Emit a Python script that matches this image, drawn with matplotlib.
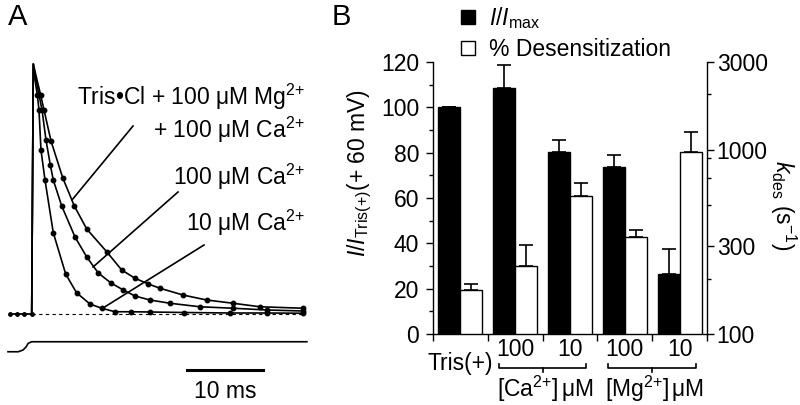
import numpy as np
import matplotlib
matplotlib.use("Agg")
import matplotlib.pyplot as plt
from matplotlib.ticker import FixedLocator, NullFormatter

plt.rcParams['font.family'] = ['Liberation Sans', 'DejaVu Sans']
plt.rcParams['mathtext.fontset'] = 'custom'
plt.rcParams['mathtext.rm'] = 'Liberation Sans'
plt.rcParams['mathtext.it'] = 'Liberation Sans:italic'
plt.rcParams['mathtext.bf'] = 'Liberation Sans:bold'
plt.rcParams['font.size'] = 16.5

# --- panel A: normalised currents, time in ms from solution exchange ---
t_base = [-2.85, -1.9, -0.95, 0.0]
i_base = [0, 0, 0, 0]

t_fast = [0.21, 0.43, 0.74, 0.96, 1.22, 1.75, 2.84, 4.47, 5.9, 7.67, 9.21,
          10.96, 13.0, 15.6, 20.0, 26.1, 31.0, 35.7]
i_fast = [1.0, 0.936, 0.876, 0.816, 0.656, 0.536, 0.325, 0.16, 0.085, 0.04,
          0.023, 0.009, 0.009, 0.008, 0.006, 0.004, 0.004, 0.003]

t_mid = [0.21, 0.57, 0.96, 1.36, 1.88, 2.45, 2.84, 3.95, 5.70, 7.24, 8.76,
         10.43, 12.05, 13.59, 15.55, 18.2, 22.1, 26.5, 31.0, 35.7]
i_mid = [1.0, 0.936, 0.876, 0.816, 0.696, 0.596, 0.536, 0.432, 0.308, 0.228,
         0.164, 0.124, 0.096, 0.072, 0.056, 0.043, 0.029, 0.023, 0.016, 0.012]

t_slow = [0.21, 0.70, 1.18, 1.62, 2.54, 4.08, 5.61, 7.24, 9.87, 11.84, 13.59,
          15.34, 16.88, 19.9, 23.0, 26.5, 30.0, 35.7]
i_slow = [1.0, 0.936, 0.876, 0.816, 0.692, 0.545, 0.432, 0.34, 0.249, 0.176,
          0.143, 0.12, 0.103, 0.076, 0.056, 0.043, 0.029, 0.023]

# open-tip junction potential (solution exchange)
t_step = [-3.12, -1.76, -1.14, -0.75, -0.45, 0.0, 36.2]
i_step = [-0.151, -0.151, -0.144, -0.132, -0.117, -0.111, -0.111]

# --- panel B ---
groups = ['Tris(+)', '100', '10', '100', '10']
i_rel = [100, 108.7, 80.5, 73.5, 26.5]
i_rel_err = [0, 9.8, 5.1, 5.3, 10.8]
k_des = [173, 235, 563, 336, 977]
k_des_err = [14, 69, 100, 31, 277]

SUP = '$^{\\mathrm{2{+}}}$'

fig = plt.figure(figsize=(8, 4.05), dpi=100)

# ---------------- A ----------------
axa = fig.add_axes([0, 0, 320 / 800, 1])
axa.set_xlim(-4.17, 37.93)
axa.set_ylim(-0.364, 1.256)
axa.axis('off')

axa.plot([0, 36], [0, 0], ls=(0, (3, 3)), color='black', lw=0.8)
axa.plot(t_base, i_base, color='black', lw=1.3, marker='o', ms=2.5)
for t, i in [(t_fast, i_fast), (t_mid, i_mid), (t_slow, i_slow)]:
    axa.plot([0.0] + t, [0.0] + i, color='black', lw=1.2)
    axa.plot(t[2:], i[2:], 'o', color='black', ms=3.2)
axa.plot(t_step, i_step, color='black', lw=1.2)

# scale bar
axa.plot([20.46, 30.46], [-0.224, -0.224], color='black', lw=2.2)
axa.text(25.46, -0.335, '10 ms', ha='center', va='baseline')

axa.text(35.96, 0.836, 'Tris•Cl + 100 μM Mg' + SUP, ha='right', va='baseline')
axa.text(35.96, 0.704, '+ 100 μM Ca' + SUP, ha='right', va='baseline')
axa.text(35.96, 0.516, '100 μM Ca' + SUP, ha='right', va='baseline')
axa.text(35.96, 0.332, '10 μM Ca' + SUP, ha='right', va='baseline')
axa.plot([13.33, 5.30], [0.752, 0.456], color='black', lw=1.2)
axa.plot([19.25, 8.07], [0.488, 0.188], color='black', lw=1.2)
axa.plot([22.67, 9.38], [0.276, 0.024], color='black', lw=1.2)

fig.text(8 / 800, 1 - 25 / 405, 'A', fontsize=21, va='baseline')
fig.text(332 / 800, 1 - 25 / 405, 'B', fontsize=21, va='baseline')

# ---------------- B ----------------
x = np.arange(len(groups))
ax = fig.add_axes([433 / 800, 71 / 405, 274 / 800, 272 / 405])
black = ax.bar(x + 0.3, i_rel, 0.4, color='black', edgecolor='black', lw=1)
ax.errorbar(x + 0.3, i_rel, yerr=[np.zeros(len(x)), i_rel_err], fmt='none',
            ecolor='black', elinewidth=1.2, capsize=5, capthick=1.2)
ax.set_xlim(0, 5)
ax.set_ylim(0, 120)
ax.set_xticks(np.arange(6))
ax.set_xticklabels([])
ax.set_yticks(np.arange(0, 121, 20))
ax.yaxis.set_minor_locator(FixedLocator(np.arange(10, 120, 20)))
ax.tick_params(axis='both', which='major', direction='out', length=5, width=1, pad=5)
ax.tick_params(axis='y', which='minor', direction='out', length=3, width=1)
for s in ['top', 'right']:
    ax.spines[s].set_visible(False)
for s in ['left', 'bottom']:
    ax.spines[s].set_linewidth(1)

ax2 = ax.twinx()
ax2.set_yscale('log')
white = ax2.bar(x + 0.7, np.array(k_des) - 100, 0.4, bottom=100, color='white',
                edgecolor='black', lw=1)
ax2.errorbar(x + 0.7, k_des, yerr=[np.zeros(len(x)), k_des_err], fmt='none',
             ecolor='black', elinewidth=1.2, capsize=5, capthick=1.2)
ax2.set_ylim(100, 3000)
ax2.yaxis.set_major_locator(FixedLocator([100, 300, 1000, 3000]))
ax2.set_yticklabels(['100', '300', '1000', '3000'])
ax2.yaxis.set_minor_locator(FixedLocator([200, 500, 700, 900, 2000]))
ax2.yaxis.set_minor_formatter(NullFormatter())
ax2.tick_params(axis='y', which='major', direction='out', length=5, width=1, pad=2)
ax2.tick_params(axis='y', which='minor', direction='out', length=3, width=1)
for s in ['top', 'left', 'bottom']:
    ax2.spines[s].set_visible(False)
ax2.spines['right'].set_linewidth(1)

# category labels and brackets under the axis
tr = ax.get_xaxis_transform()
ax.text(0.5, -0.132, groups[0], transform=tr, ha='center', va='baseline')
for xi, lab in zip(x[1:], groups[1:]):
    ax.text(xi + 0.5, -0.081, lab, transform=tr, ha='center', va='baseline')
for lo, hi, mid, ion in [(1.2, 2.8, 2.0, 'Ca'), (3.2, 4.8, 4.0, 'Mg')]:
    ax.plot([lo, lo, hi, hi], [-0.110, -0.125, -0.125, -0.110], transform=tr,
            color='black', lw=1.2, clip_on=False)
    ax.plot([mid, mid], [-0.125, -0.140], transform=tr, color='black', lw=1.2,
            clip_on=False)
    ax.text(mid + 0.05, -0.232, '[' + ion + SUP + ']$\\,$μM', transform=tr,
            ha='center', va='baseline')

fig.text(360 / 800, 1 - 173 / 405, '$I/I_{\\mathrm{Tris(+)}}$(+ 60 mV)',
         rotation=90, ha='center', va='center')
fig.text(783 / 800, 1 - 205 / 405, '$k_{\\mathrm{des}}$ (s$^{-1}$)',
         rotation=270, ha='center', va='center')

fig.legend([black, white], ['$I/I_{\\mathrm{max}}$', '% Desensitization'],
           loc='upper left', bbox_to_anchor=(459 / 800, 1 - 3 / 405), frameon=False,
           handlelength=0.6, handleheight=0.6, handletextpad=0.6,
           labelspacing=0.3, borderpad=0.1, borderaxespad=0)

fig.savefig('out.png', dpi=100)
